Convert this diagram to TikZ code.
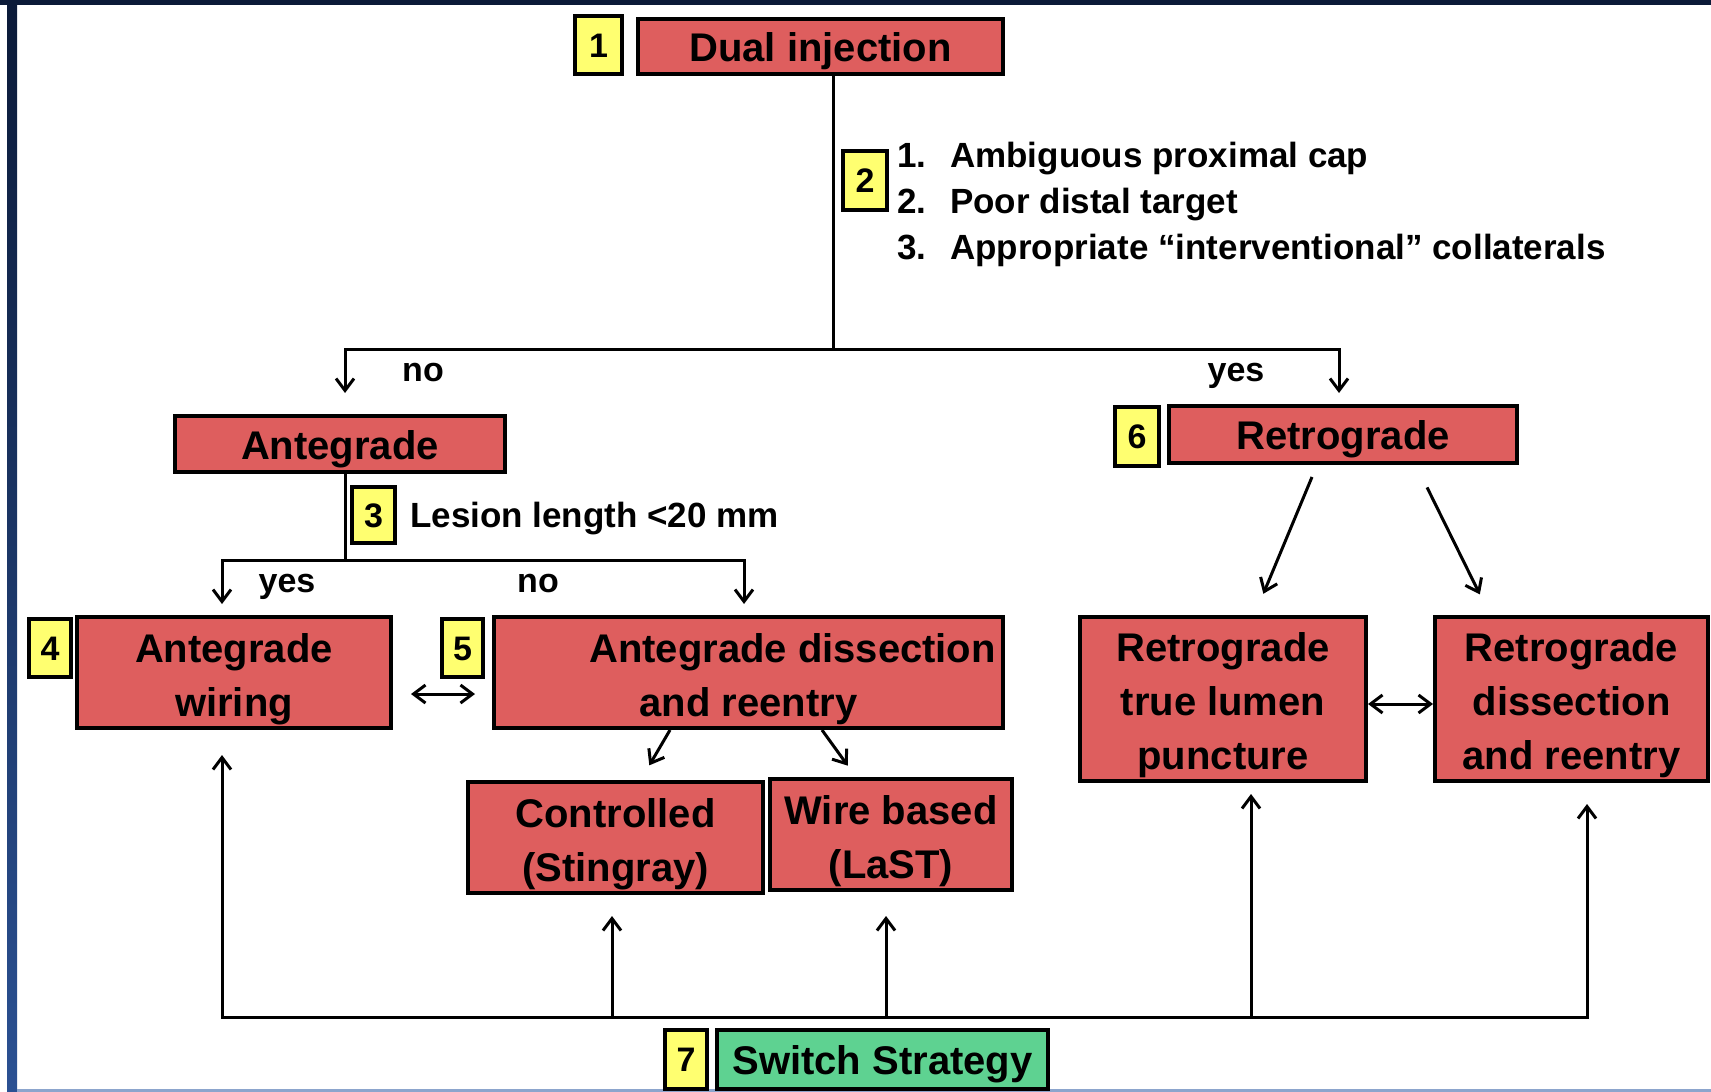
\documentclass[tikz,border=0pt]{standalone}
\usepackage{fontspec}
\setmainfont{Liberation Sans}
\usetikzlibrary{arrows.meta}
\definecolor{boxred}{RGB}{222,94,94}
\definecolor{boxyellow}{RGB}{255,255,112}
\definecolor{boxgreen}{RGB}{94,210,145}
\definecolor{navyband}{RGB}{11,26,56}
\definecolor{bandbot}{RGB}{43,81,147}
\definecolor{bottomline}{RGB}{140,165,205}
\newcommand\boxfont{\fontsize{40}{54}\selectfont\bfseries}
\newcommand\numfont{\fontsize{34}{40}\selectfont\bfseries}
\newcommand\listfont{\fontsize{35}{46}\selectfont\bfseries}
\newcommand\lblfont{\fontsize{34}{40}\selectfont\bfseries}
\newcommand\tstrut{\rule{0pt}{42pt}}
\begin{document}
\begin{tikzpicture}[x=1pt,y=-1pt,
  redbox/.style={draw=black, line width=4pt, fill=boxred, inner sep=0pt, align=center, font=\boxfont},
  greenbox/.style={redbox, fill=boxgreen},
  oneline/.style={text height=35pt, text depth=5pt},
  numbox/.style={draw=black, line width=4pt, fill=boxyellow, inner sep=0pt, font=\numfont, text height=29pt, text depth=5pt},
  txt/.style={inner sep=0pt},
  conn/.style={line width=3pt},
  arr/.style={conn, -{Straight Barb[length=12pt,width=18pt]}},
  darr/.style={conn, {Straight Barb[length=12pt,width=18pt]}-{Straight Barb[length=12pt,width=18pt]}},
]
% background and frame
\useasboundingbox (0,0) rectangle (1711,1092);
\fill[white] (0,0) rectangle (1711,1092);
\shade[top color=navyband, bottom color=bandbot] (7,0) rectangle (17,1092);
\fill[navyband] (0,0) rectangle (1711,5);
\fill[bottomline] (17,1089) rectangle (1711,1092);

% top
\node[numbox, minimum width=47pt, minimum height=58pt] (n1) at (598.5,45) {1};
\node[redbox, oneline, minimum width=365pt, minimum height=55pt] (dual) at (820.5,46.5) {Dual injection};
\node[numbox, minimum width=44pt, minimum height=59pt] (n2) at (865,180.5) {2};
\node[txt, font=\listfont, align=left, anchor=west] (crit) at (897,204.5)
  {\makebox[53pt][l]{1.}Ambiguous proximal cap\\
   \makebox[53pt][l]{2.}Poor distal target\\
   \makebox[53pt][l]{3.}Appropriate “interventional” collaterals};

% level 2
\node[redbox, oneline, minimum width=330pt, minimum height=56pt] (ante) at (340,444) {Antegrade};
\node[numbox, minimum width=44pt, minimum height=59pt] (n6) at (1137,436.5) {6};
\node[redbox, oneline, minimum width=348pt, minimum height=57pt] (retro) at (1343,434.5) {Retrograde};

\coordinate (j1) at (833,349);
\coordinate (anteTop) at ([xshift=5pt]ante.north);
\coordinate (retroTop) at ([xshift=-4pt]retro.north);
\draw[conn] (dual.south -| j1) -- (j1);
\draw[darr, shorten <=21pt, shorten >=11pt] (anteTop) |- (j1) -| (retroTop);
\node[txt, font=\lblfont] (no1) at (423,373) {no};
\node[txt, font=\lblfont] (yes1) at (1236,376) {yes};

% antegrade branch
\node[numbox, minimum width=43pt, minimum height=56pt] (n3) at (373.5,515) {3};
\node[txt, font=\listfont, text height=30pt, text depth=5pt, anchor=west] (lesion) at (410,515) {Lesion length <20 mm};
\node[numbox, minimum width=42pt, minimum height=58pt] (n4) at (50,648) {4};
\node[redbox, minimum width=314pt, minimum height=111pt] (wiring) at (234,672.5) {\tstrut Antegrade\\wiring};
\node[numbox, minimum width=41pt, minimum height=58pt] (n5) at (462.5,648) {5};
\node[redbox, minimum width=509pt, minimum height=111pt] (adr) at (748.5,672.5) {\tstrut\hspace*{88pt}Antegrade dissection\\and reentry};

\coordinate (j2) at (345,560);
\coordinate (wiringTop) at ([xshift=-12pt]wiring.north);
\coordinate (adrTop) at ([xshift=-4.5pt]adr.north);
\draw[conn] (anteTop |- ante.south) -- (j2);
\draw[darr, shorten <=11pt, shorten >=11pt] (wiringTop) |- (j2) -| (adrTop);
\node[txt, font=\lblfont] (yes2) at (287,587) {yes};
\node[txt, font=\lblfont] (no2) at (538,584) {no};
\draw[darr, shorten <=18pt, shorten >=17pt] ([yshift=-21.5pt]wiring.east) -- ([yshift=-21.5pt]adr.west);

\node[redbox, minimum width=295pt, minimum height=111pt] (ctrl) at (615.5,837.5) {\tstrut Controlled\\(Stingray)};
\node[redbox, minimum width=242pt, minimum height=111pt] (wbased) at (891,834.5) {\tstrut Wire based\\(LaST)};
\draw[arr, shorten >=17pt] ([xshift=-78.5pt]adr.south) -- ([xshift=25.2pt]ctrl.north);
\draw[arr, shorten >=14pt] ([xshift=73.5pt]adr.south) -- ([xshift=-35pt]wbased.north);

% retrograde branch
\node[redbox, minimum width=286pt, minimum height=164pt] (rtlp) at (1223,699) {\tstrut Retrograde\\true lumen\\puncture};
\node[redbox, minimum width=273pt, minimum height=164pt] (rdr) at (1571.5,699) {\tstrut Retrograde\\dissection\\and reentry};
\draw[arr, shorten <=13pt, shorten >=23pt] ([xshift=-26pt]retro.south) -- ([xshift=31.5pt]rtlp.north);
\draw[arr, shorten <=25pt, shorten >=23pt] ([xshift=73pt]retro.south) -- ([xshift=-81.5pt]rdr.north);
\draw[darr] ([yshift=-5pt]rtlp.east) -- ([yshift=-5pt]rdr.west);

% switch strategy
\node[numbox, minimum width=42pt, minimum height=59pt] (n7) at (686,1059.5) {7};
\node[greenbox, oneline, minimum width=331pt, minimum height=59pt] (switch) at (882.5,1059.5) {Switch Strategy};
\coordinate (busY) at ([yshift=11pt]switch.north);
\coordinate (wiringBot) at ([xshift=-12pt]wiring.south);
\coordinate (ctrlBot) at ([xshift=-3.5pt]ctrl.south);
\coordinate (wbBot) at ([xshift=-5pt]wbased.south);
\coordinate (rtlpBot) at ([xshift=28pt]rtlp.south);
\coordinate (rdrBot) at ([xshift=15.5pt]rdr.south);
\draw[darr, shorten <=25pt, shorten >=21pt] (wiringBot) -- (wiringBot |- busY) -- (rdrBot |- busY) -- (rdrBot);
\draw[arr, shorten >=21pt] (ctrlBot |- busY) -- (ctrlBot);
\draw[arr, shorten >=24pt] (wbBot |- busY) -- (wbBot);
\draw[arr, shorten >=11pt] (rtlpBot |- busY) -- (rtlpBot);
\end{tikzpicture}
\end{document}
